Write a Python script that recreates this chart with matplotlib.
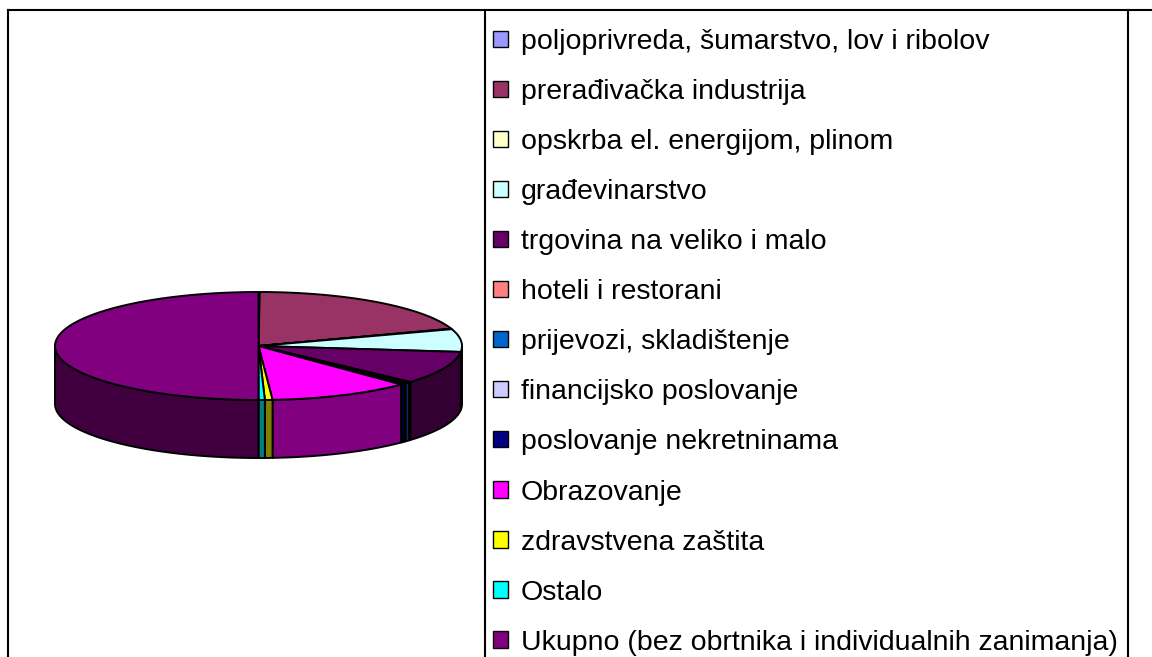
import numpy as np
import matplotlib
matplotlib.use("Agg")
import matplotlib.pyplot as plt
from matplotlib.patches import Polygon, Patch
from matplotlib.lines import Line2D
from matplotlib.colors import to_rgb

# ---------------- data ----------------
categories = [
    "poljoprivreda, šumarstvo, lov i ribolov",
    "prerađivačka industrija",
    "opskrba el. energijom, plinom",
    "građevinarstvo",
    "trgovina na veliko i malo",
    "hoteli i restorani",
    "prijevozi, skladištenje",
    "financijsko poslovanje",
    "poslovanje nekretninama",
    "Obrazovanje",
    "zdravstvena zaštita",
    "Ostalo",
    "Ukupno (bez obrtnika i individualnih zanimanja)",
]
values = [0.2, 39.4, 0.3, 13.6, 19.7, 0.3, 0.8, 0.3, 0.7, 22.5, 1.2, 1.0, 100.0]
colors = ["#9999FF", "#993366", "#FFFFCC", "#CCFFFF", "#660066", "#FF8080",
          "#0066CC", "#CCCCFF", "#000080", "#FF00FF", "#FFFF00", "#00FFFF",
          "#800080"]

# ---------------- style / geometry ----------------
W, H = 1152, 657
CX, CY = 258.5, 346.0      # centre of top face (pixel space)
RX, RY = 203.5, 54.0       # ellipse radii
DEPTH = 58.0               # thickness of the pie
EDGE_LW = 1.4
FONT_PT = 20.5

fig = plt.figure(figsize=(W / 100, H / 100), dpi=100)
ax = fig.add_axes([0, 0, 1, 1])
ax.set_xlim(0, W)
ax.set_ylim(H, 0)
ax.axis("off")


def arc(t0, t1, n=200):
    t = np.linspace(t0, t1, max(2, int(n * (t1 - t0) / (2 * np.pi)) + 2))
    return CX + RX * np.sin(t), CY - RY * np.cos(t)


def dark(c):
    r, g, b = to_rgb(c)
    return (r * 0.5, g * 0.5, b * 0.5)


total = float(np.sum(values))
bounds = np.concatenate([[0.0], np.cumsum(values)]) / total * 2 * np.pi

# side faces (front half only: angles between pi/2 and 3pi/2)
for i, c in enumerate(colors):
    a0, a1 = bounds[i], bounds[i + 1]
    s0, s1 = max(a0, np.pi / 2), min(a1, 3 * np.pi / 2)
    if s1 <= s0:
        continue
    xs, ys = arc(s0, s1)
    px = np.concatenate([xs, xs[::-1]])
    py = np.concatenate([ys, ys[::-1] + DEPTH])
    ax.add_patch(Polygon(np.column_stack([px, py]), closed=True,
                         facecolor=dark(c), edgecolor="black", lw=EDGE_LW,
                         joinstyle="round"))

# top faces
for i, c in enumerate(colors):
    a0, a1 = bounds[i], bounds[i + 1]
    xs, ys = arc(a0, a1)
    px = np.concatenate([[CX], xs])
    py = np.concatenate([[CY], ys])
    ax.add_patch(Polygon(np.column_stack([px, py]), closed=True,
                         facecolor=c, edgecolor="black", lw=EDGE_LW,
                         joinstyle="round"))

# frame lines (chart area border and legend box)
frame_kw = dict(color="black", lw=1.5, transform=ax.transData)
ax.add_line(Line2D([8, W], [10, 10], **frame_kw))
ax.add_line(Line2D([8, 8], [10, H], **frame_kw))
ax.add_line(Line2D([485, 485], [10, H], **frame_kw))
ax.add_line(Line2D([1128, 1128], [10, H], **frame_kw))

# legend
handles = [Patch(facecolor=c, edgecolor="black", lw=1.0) for c in colors]
leg = fig.legend(handles, categories, loc="upper left",
                 bbox_to_anchor=(493 / W, 1 - 29 / H),
                 frameon=False, borderpad=0, borderaxespad=0,
                 handlelength=0.52, handleheight=0.5, handletextpad=0.45,
                 labelspacing=0.845,
                 prop={"family": "Liberation Sans", "size": FONT_PT})

fig.savefig("out.png", dpi=100)
